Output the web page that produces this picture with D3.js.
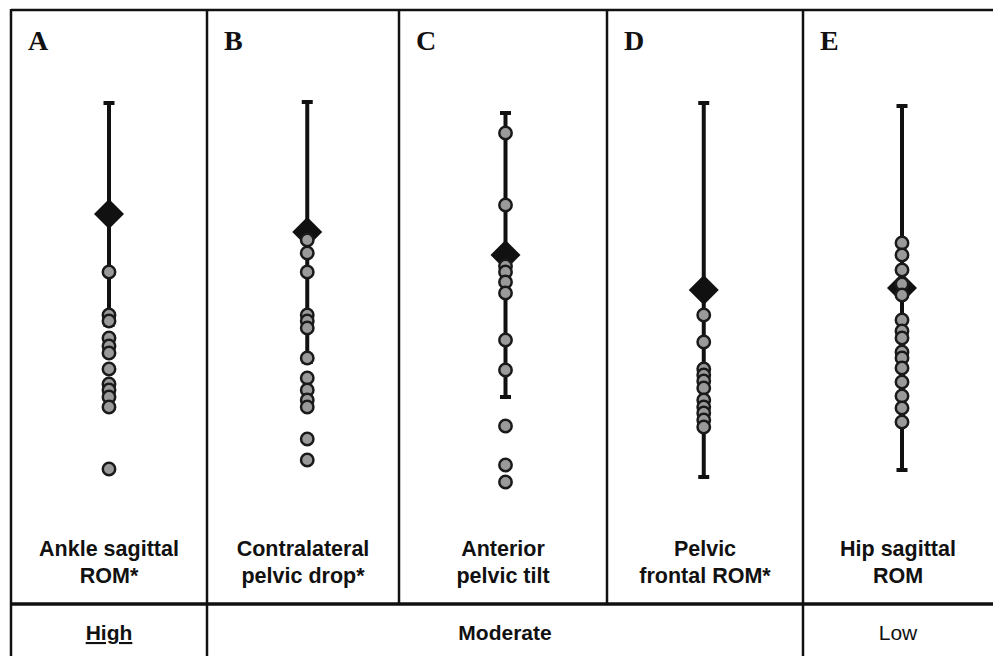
<!DOCTYPE html>
<html>
<head>
<meta charset="utf-8">
<script src="https://cdn.jsdelivr.net/npm/d3@7"></script>
<style>
  html, body { margin: 0; padding: 0; background: #fff; }
  svg { display: block; }
</style>
</head>
<body>
<svg id="chart" width="993" height="656"></svg>
<script>
// Panel letters and variable names
const panels = ["A", "B", "C", "D", "E"];
const labelLine1 = ["Ankle sagittal", "Contralateral", "Anterior", "Pelvic", "Hip sagittal"];
const labelLine2 = ["ROM*", "pelvic drop*", "pelvic tilt", "frontal ROM*", "ROM"];

// Group means and standard deviations (diamond with whiskers)
const means = [71.5, 67, 61.25, 52.5, 53];
const sds = [27.75, 32.5, 35.5, 46.75, 45.5];

// Individual values per panel (grey circles)
const valuesA = [57, 46.25, 44.75, 40.5, 38.5, 36.75, 32.75, 29, 27.5, 25.75, 23.25, 7.75];
const valuesB = [65, 61.75, 57, 46.25, 44.75, 43, 35.5, 30.5, 27.5, 25, 23.25, 15.25, 10];
const valuesC = [91.75, 73.75, 58.5, 57, 54.5, 51.75, 40, 32.5, 18.5, 8.75, 4.5];
const valuesD = [46.25, 39.5, 32.75, 31.25, 29.75, 28, 25, 23.25, 21.75, 20, 18.25];
const valuesE = [64.25, 61.25, 57.5, 54, 51.25, 45, 42.25, 40.5, 37, 35.5, 33, 29.5, 26, 23, 19.5];
const individual = [valuesA, valuesB, valuesC, valuesD, valuesE];

// Evidence level groups in the bottom row
const levels = ["High", "Moderate", "Low"];
const levelSpans = [[0, 0], [1, 3], [4, 4]];

const svg = d3.select("#chart");
const W = 993, H = 656;

// layout
const frameTop = 10, labelRowTop = 604, frameBottom = H;
const edges = [11, 207, 399, 607, 803, 998];

const x = d3.scalePoint().domain(panels).range([109, 902]);
const y = d3.scaleLinear().domain([0, 100]).range([500, 100]);

const ink = "#111";

// frame
const frame = svg.append("g").attr("fill", "none").attr("stroke", ink);
frame.append("line").attr("x1", edges[0]).attr("x2", W + 5).attr("y1", frameTop).attr("y2", frameTop).attr("stroke-width", 2.5);
frame.append("line").attr("x1", edges[0]).attr("x2", edges[0]).attr("y1", frameTop - 1).attr("y2", frameBottom).attr("stroke-width", 2.5);
frame.append("line").attr("x1", edges[0]).attr("x2", W + 5).attr("y1", labelRowTop).attr("y2", labelRowTop).attr("stroke-width", 3.5);
edges.slice(1, -1).forEach((ex, i) => {
  const full = (i === 0 || i === 3);
  frame.append("line").attr("x1", ex).attr("x2", ex)
    .attr("y1", frameTop).attr("y2", full ? frameBottom : labelRowTop)
    .attr("stroke-width", 2.5);
});

// panel letters
svg.append("g").selectAll("text").data(panels).join("text")
  .attr("x", (d, i) => edges[i] + 17)
  .attr("y", 50)
  .attr("font-family", "'Liberation Serif', 'Times New Roman', serif")
  .attr("font-weight", "bold")
  .attr("font-size", 28)
  .attr("fill", ink)
  .text(d => d);

// diamond marker, half-diagonal 15px
const diamond = d3.symbol(d3.symbolDiamond2, Math.pow(15 / 0.62625, 2))();

// whiskers, means and individual points
panels.forEach((p, i) => {
  const g = svg.append("g");
  const cx = x(p);
  const hi = means[i] + sds[i], lo = means[i] - sds[i];
  g.append("line").attr("x1", cx).attr("x2", cx)
    .attr("y1", y(hi)).attr("y2", y(lo))
    .attr("stroke", ink).attr("stroke-width", 4);
  [hi, lo].forEach(v => {
    g.append("line").attr("x1", cx - 5.5).attr("x2", cx + 5.5)
      .attr("y1", y(v)).attr("y2", y(v))
      .attr("stroke", ink).attr("stroke-width", 4);
  });
  g.append("path")
    .attr("d", diamond)
    .attr("transform", `translate(${cx},${y(means[i])})`)
    .attr("fill", ink);
  g.selectAll("circle").data(individual[i]).join("circle")
    .attr("cx", cx).attr("cy", d => y(d)).attr("r", 6.2)
    .attr("fill", "#9a9a9a").attr("stroke", "#1a1a1a").attr("stroke-width", 2.5);
});

// variable labels
const lab = svg.append("g")
  .attr("font-family", "'Liberation Sans', Arial, sans-serif")
  .attr("font-weight", "bold")
  .attr("font-size", 21.5)
  .attr("fill", ink)
  .attr("text-anchor", "middle");
panels.forEach((p, i) => {
  const cx = (edges[i] + Math.min(edges[i + 1], W)) / 2;
  lab.append("text").attr("x", cx).attr("y", 556).text(labelLine1[i]);
  lab.append("text").attr("x", cx).attr("y", 583).text(labelLine2[i]);
});

// evidence level row
levels.forEach((lv, k) => {
  const [a, b] = levelSpans[k];
  const cx = (edges[a] + Math.min(edges[b + 1], W)) / 2;
  const t = svg.append("text")
    .attr("x", cx).attr("y", 640)
    .attr("text-anchor", "middle")
    .attr("font-family", "'Liberation Sans', Arial, sans-serif")
    .attr("font-size", 21)
    .attr("font-weight", lv === "Low" ? "normal" : "bold")
    .attr("fill", ink)
    .text(lv);
  if (lv === "High") t.attr("text-decoration", "underline");
});
</script>
</body>
</html>
